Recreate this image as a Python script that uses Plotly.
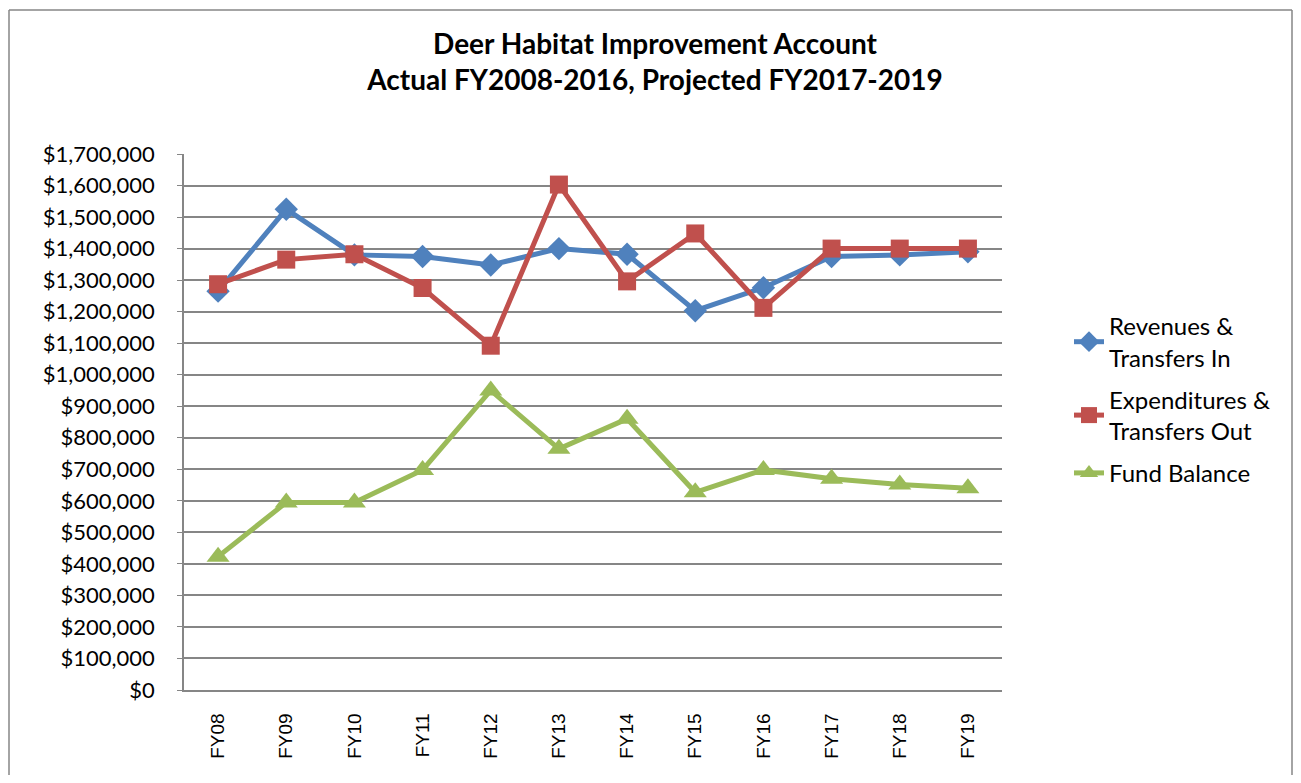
import plotly.graph_objects as go

categories = ["FY08", "FY09", "FY10", "FY11", "FY12", "FY13", "FY14", "FY15", "FY16", "FY17", "FY18", "FY19"]
revenues = [1265000, 1525000, 1380000, 1375000, 1348000, 1400000, 1382000, 1203000, 1276000, 1375000, 1380000, 1390000]
expenditures = [1287000, 1365000, 1382000, 1275000, 1092000, 1603000, 1296000, 1448000, 1212000, 1400000, 1400000, 1400000]
fund_balance = [423000, 595000, 595000, 698000, 950000, 765000, 860000, 627000, 698000, 670000, 652000, 640000]
y_ticks = list(range(0, 1700001, 100000))
y_labels = ["$" + format(v, ",") for v in y_ticks]

series_names = ["Revenues &<br>Transfers In", "Expenditures &<br>Transfers Out", "Fund Balance"]
series_colors = ["#4F81BD", "#C0504D", "#9BBB59"]
series_symbols = ["diamond", "square", "triangle-up"]
series_sizes = [18, 18, 20]

fig = go.Figure()
for i, (name, vals, col, sym, sz) in enumerate(zip(series_names, [revenues, expenditures, fund_balance],
                                                  series_colors, series_symbols, series_sizes)):
    fig.add_trace(go.Scatter(
        x=categories, y=vals, name=name, mode="lines+markers",
        legendgroup="g%d" % i,
        line=dict(color=col, width=5),
        marker=dict(symbol=sym, size=sz, color=col),
    ))

# page has an 8px body margin; coordinates below are figure coordinates
OFF = 8
W, H = 1301 - 2 * OFF, 783 - 2 * OFF
L = 184 - OFF
T = 154 - OFF
R = W - (1002 - OFF)
B = H - (690 - OFF)
pw = W - L - R
ph = H - T - B

def px_y(page_y):
    return (H - B - (page_y - OFF)) / ph

def px_x(page_x):
    return (page_x - OFF - L) / pw

fig.update_layout(
    width=W, height=H,
    margin=dict(l=L, r=R, t=T, b=B, autoexpand=False),
    paper_bgcolor="white", plot_bgcolor="white",
    title=dict(
        text="<b>Deer Habitat Improvement Account<br>Actual FY2008-2016, Projected FY2017-2019</b>",
        x=(655 - OFF) / W, xanchor="center", y=1 - 46 / H, yanchor="top",
        font=dict(family="Lato", size=28, color="black"),
    ),
    font=dict(family="Lato", color="black"),
    showlegend=True,
    legend=dict(
        x=px_x(1069), xanchor="left", y=px_y(304), yanchor="top",
        font=dict(family="Lato", size=24, color="black"),
        bgcolor="rgba(0,0,0,0)", tracegroupgap=8,
    ),
    xaxis=dict(
        type="category", range=[-0.5, 11.5],
        showgrid=False, showline=True, linecolor="#868686", linewidth=1.5,
        ticks="outside", ticklen=0, tickangle=-90,
        tickfont=dict(family="Liberation Sans", size=19, color="black"),
        ticklabelstandoff=14,
    ),
    yaxis=dict(
        range=[0, 1700000], tickvals=y_ticks, ticktext=y_labels,
        showgrid=True, gridcolor="#868686", gridwidth=1.5,
        showline=True, linecolor="#868686", linewidth=1.5,
        ticks="outside", ticklen=5, tickcolor="#868686",
        tickfont=dict(family="Lato", size=22, color="black"),
        ticklabelstandoff=18, zeroline=False,
    ),
    hovermode=False,
)

# outer chart frame: left, top and right edges (bottom is off-page in the reference)
bx0, bx1 = px_x(9), px_x(1292)
by0, by1 = px_y(783), px_y(10)
for (x0, y0, x1, y1) in [(bx0, by0, bx0, by1), (bx0, by1, bx1, by1), (bx1, by1, bx1, by0)]:
    fig.add_shape(
        type="line", xref="paper", yref="paper", x0=x0, y0=y0, x1=x1, y1=y1,
        line=dict(color="#868686", width=1.5), layer="below",
    )

fig.write_html("out.html")
